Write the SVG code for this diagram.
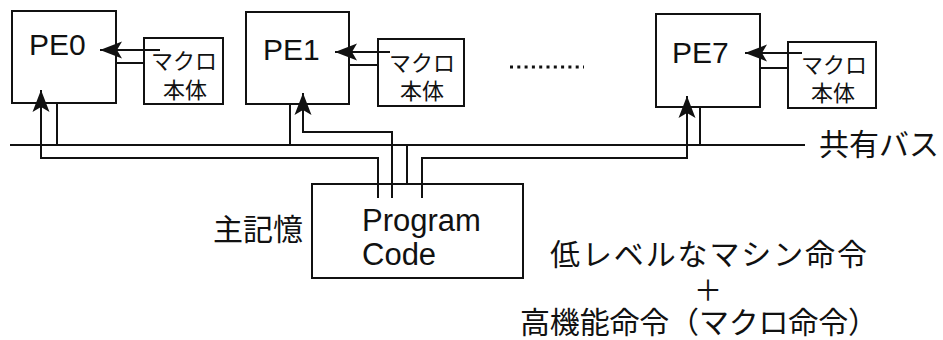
<svg xmlns="http://www.w3.org/2000/svg" width="943" height="340" viewBox="0 0 943 340">
<style>
.box{fill:#fff;stroke:#111;stroke-width:2}
.ln{fill:none;stroke:#111;stroke-width:2}
.arr{fill:none;stroke:#111;stroke-width:2;marker-end:url(#ah)}
.lat{font-family:"Liberation Sans",Arial,sans-serif;fill:#111}
.jp{font-family:"Noto Sans CJK JP","Noto Sans CJK SC",sans-serif;fill:#111}
.pe{font-size:30px}
.mac{font-size:22px;text-anchor:middle}
.big{font-size:30px}
</style>
<defs>
<marker id="ah" markerUnits="userSpaceOnUse" markerWidth="26" markerHeight="20" refX="22" refY="8.5" orient="auto" overflow="visible">
<path d="M22,8.5 L0,0 L5,8.5 L0,17 z" fill="#111"/>
</marker>
</defs>
<g id="pe0">
<rect class="box" x="12" y="11" width="104" height="92"/>
<text class="lat pe" x="29" y="55">PE0</text>
</g>
<g id="macro0">
<rect class="box" x="144" y="38" width="79" height="66"/>
<text class="jp mac" x="184" y="69">マクロ</text>
<text class="jp mac" x="185" y="98">本体</text>
</g>
<g id="pe1">
<rect class="box" x="246" y="12" width="103" height="92"/>
<text class="lat pe" x="263" y="60">PE1</text>
</g>
<g id="macro1">
<rect class="box" x="378" y="39" width="86" height="67"/>
<text class="jp mac" x="422" y="71">マクロ</text>
<text class="jp mac" x="422" y="99">本体</text>
</g>
<g id="dots">
<line x1="510" y1="67" x2="584" y2="67" stroke="#111" stroke-width="3" stroke-dasharray="3 4.3"/>
</g>
<g id="pe7">
<rect class="box" x="656" y="14" width="104" height="93"/>
<text class="lat pe" x="672" y="63">PE7</text>
</g>
<g id="macro7">
<rect class="box" x="788" y="42" width="88" height="66"/>
<text class="jp mac" x="834" y="73">マクロ</text>
<text class="jp mac" x="833" y="101">本体</text>
</g>
<g id="memory">
<rect class="box" x="312" y="184" width="211" height="94"/>
<text class="lat" font-size="31" x="362" y="231">Program</text>
<text class="lat" font-size="31" x="362" y="265">Code</text>
<text class="jp big" x="213" y="240">主記憶</text>
</g>
<g id="bus-label">
<text class="jp big" x="819" y="155">共有バス</text>
</g>
<g id="notes">
<text class="jp big" x="550" y="265" textLength="317">低レベルなマシン命令</text>
<text class="jp" font-size="28" x="708" y="301" text-anchor="middle">＋</text>
<text class="jp big" x="520" y="333" textLength="358">高機能命令（マクロ命令）</text>
</g>
<g id="connectors">
<line class="ln" x1="10" y1="145" x2="805" y2="145"/>
<line class="ln" x1="57" y1="103" x2="57" y2="145"/>
<line class="ln" x1="290" y1="104" x2="290" y2="145"/>
<line class="ln" x1="700" y1="107" x2="700" y2="145"/>
<line class="ln" x1="407" y1="145" x2="407" y2="184"/>
<path class="arr" d="M378,198 V158 H41 V90"/>
<path class="arr" d="M392,198 V132 H303 V93"/>
<path class="arr" d="M422,198 V158 H687 V96"/>
<line class="arr" x1="160" y1="50" x2="100" y2="50"/>
<line class="ln" x1="116" y1="63" x2="144" y2="63"/>
<line class="arr" x1="390" y1="52" x2="335" y2="52"/>
<line class="ln" x1="349" y1="65" x2="378" y2="65"/>
<line class="arr" x1="802" y1="53" x2="745" y2="53"/>
<line class="ln" x1="760" y1="68" x2="788" y2="68"/>
</g>
</svg>
